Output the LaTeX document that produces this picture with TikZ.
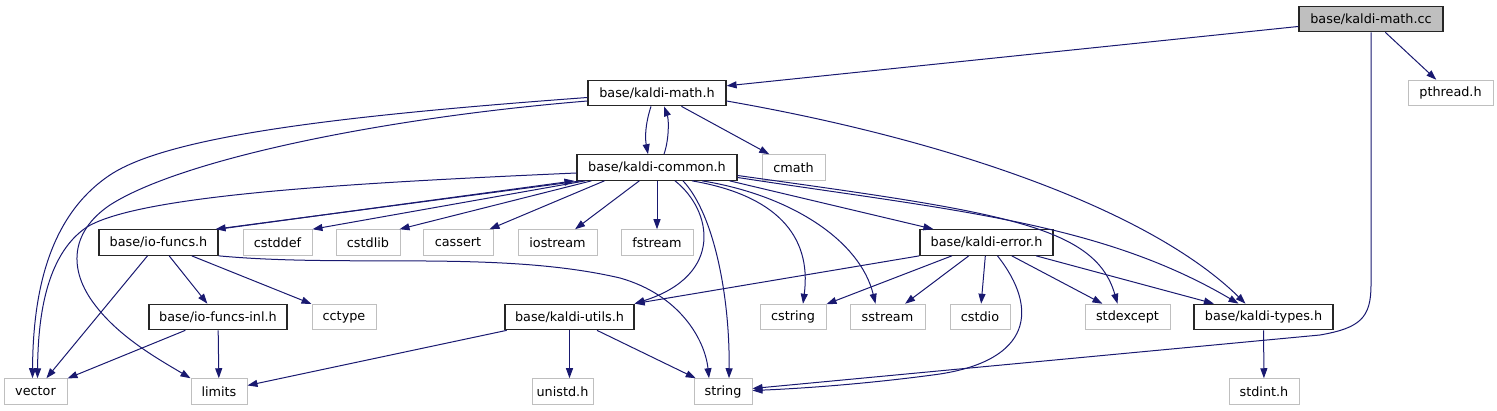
\documentclass[tikz,border=0pt]{standalone}
\usepackage{fontspec}
\setmainfont{DejaVu Sans}
\usetikzlibrary{arrows.meta}
\definecolor{edgec}{HTML}{191970}
\definecolor{greyb}{HTML}{BFBFBF}
\begin{document}
\begin{tikzpicture}[x=1pt,y=-1pt,
  lbl/.style={minimum height=25.5pt, inner sep=0pt, fill=white, font=\fontsize{12.8}{15}\selectfont},
  box/.style={lbl, draw=black!85, line width=1.2pt},
  ext/.style={lbl, draw=greyb, line width=1pt},
  edge/.style={draw=edgec, line width=1pt, -{Triangle[length=10pt,width=7pt]}}]
\useasboundingbox (0,0) rectangle (1497,411);
% nodes
\node[box, fill=greyb, minimum width=144pt] (cc) at (1371,19) {base/kaldi-math.cc};
\node[ext, minimum width=85pt] (pth) at (1450.5,93) {pthread.h};
\node[box, minimum width=138pt] (mh) at (657,93) {base/kaldi-math.h};
\node[box, minimum width=160pt] (kc) at (657,167.5) {base/kaldi-common.h};
\node[ext, minimum width=63pt] (cmath) at (793.5,167.5) {cmath};
\node[box, minimum width=119pt] (io) at (158.5,242.5) {base/io-funcs.h};
\node[ext, minimum width=69pt] (cstddef) at (277.5,242.5) {cstddef};
\node[ext, minimum width=64pt] (cstdlib) at (368,242.5) {cstdlib};
\node[ext, minimum width=70pt] (cassert) at (458,242.5) {cassert};
\node[ext, minimum width=79pt] (iostream) at (557.5,242.5) {iostream};
\node[ext, minimum width=72pt] (fstream) at (657,242.5) {fstream};
\node[box, minimum width=133pt] (ke) at (986.5,242.5) {base/kaldi-error.h};
\node[box, minimum width=138pt] (inl) at (218,317) {base/io-funcs-inl.h};
\node[ext, minimum width=64pt] (cctype) at (344,317) {cctype};
\node[box, minimum width=129pt] (utils) at (569.5,317) {base/kaldi-utils.h};
\node[ext, minimum width=66pt] (cstring) at (793,317) {cstring};
\node[ext, minimum width=75pt] (sstream) at (887.5,317) {sstream};
\node[ext, minimum width=60pt] (cstdio) at (980,317) {cstdio};
\node[ext, minimum width=85pt] (stdexcept) at (1127.5,317) {stdexcept};
\node[box, minimum width=139pt] (kt) at (1263.5,317) {base/kaldi-types.h};
\node[ext, minimum width=63pt] (vector) at (35.5,391.5) {vector};
\node[ext, minimum width=56pt] (limits) at (219,391.5) {limits};
\node[ext, minimum width=61pt] (unistd) at (562.5,391.5) {unistd.h};
\node[ext, minimum width=58pt] (string) at (723,391.5) {string};
\node[ext, minimum width=70pt] (stdint) at (1264,391.5) {stdint.h};
% edges from kaldi-math.cc
\draw[edge] (cc) -- (mh);
\draw[edge] (cc) -- (pth);
\draw[edge] (cc.south) -- (1371,285) .. controls (1371,318) and (1360,328) .. (1320,335) -- ([yshift=3pt]string.east);
% edges from kaldi-math.h
\draw[edge] ([xshift=-6pt]mh.south) .. controls (645,125) and (645,138) .. ([xshift=-9pt]kc.north);
\draw[edge] (mh) -- (cmath);
\draw[edge] ([yshift=-8pt]mh.east) .. controls (950,140) and (1150,210) .. ([xshift=-18pt]kt.north);
\draw[edge] ([yshift=-4.5pt]mh.west) .. controls (350,115) and (170,135) .. (110,175) .. controls (50,215) and (33,290) .. ([xshift=-3pt]vector.north);
\draw[edge] ([yshift=-8pt]mh.west) .. controls (380,118) and (180,160) .. (110,205) .. controls (70,232) and (68,270) .. (95,305) .. controls (120,338) and (160,360) .. (limits.north west);
% edges from kaldi-common.h
\draw[edge] ([xshift=7pt]kc.north) .. controls (669,140) and (669,120) .. ([xshift=7pt]mh.south);
\draw[edge] ([yshift=-5.5pt]kc.west) .. controls (350,183) and (140,195) .. (87,227) .. controls (45,255) and (38,320) .. ([xshift=2pt]vector.north);
\draw[edge] ([xshift=5pt]kc.south west) -- ([xshift=-3pt]io.north east);
\draw[edge] ([xshift=9pt]kc.south west) -- (cstddef.north east);
\draw[edge] ([xshift=15pt]kc.south west) -- ([xshift=-1pt]cstdlib.north east);
\draw[edge] ([xshift=28pt]kc.south west) -- ([xshift=-4pt]cassert.north east);
\draw[edge] (kc) -- (iostream);
\draw[edge] (kc) -- (fstream);
\draw[edge] ([xshift=18pt]kc.south) .. controls (712,210) and (725,275) .. (utils.north east);
\draw[edge] ([xshift=26pt]kc.south) .. controls (715,215) and (730,300) .. ([xshift=6pt]string.north);
\draw[edge] ([xshift=35pt]kc.south) .. controls (775,195) and (812,235) .. ([xshift=10pt]cstring.north);
\draw[edge] ([xshift=45pt]kc.south) .. controls (790,195) and (860,240) .. ([xshift=-12pt]sstream.north);
\draw[edge] ([xshift=-8pt]kc.south east) -- ([xshift=14pt]ke.north west);
\draw[edge] ([yshift=-8pt]kc.east) .. controls (1000,212) and (1095,225) .. ([xshift=-10pt]stdexcept.north);
\draw[edge] ([yshift=-10pt]kc.east) .. controls (950,210) and (1100,222) .. ([xshift=-25pt]kt.north);
% edges from io-funcs.h
\draw[edge] (io.north east) -- ([xshift=-2pt]kc.south west);
\draw[edge] (io) -- (vector);
\draw[edge] (io) -- (inl);
\draw[edge] (io) -- (cctype);
\draw[edge] (io.south east) .. controls (350,268) and (500,250) .. (620,278) .. controls (680,295) and (705,340) .. ([xshift=-14pt]string.north);
% edges from io-funcs-inl.h
\draw[edge] (inl) -- (vector);
\draw[edge] (inl) -- (limits);
% edges from kaldi-utils.h
\draw[edge] (utils) -- (limits);
\draw[edge] (utils.south) -- (utils.south |- unistd.north);
\draw[edge] (utils) -- (string);
% edges from kaldi-error.h
\draw[edge] (ke.south west) -- (utils.north east);
\draw[edge] (ke) -- (cstring);
\draw[edge] (ke) -- (sstream);
\draw[edge] (ke) -- (cstdio);
\draw[edge] ([xshift=11pt]ke.south) .. controls (1040,310) and (1030,360) .. (940,374) .. controls (860,385) and (790,389) .. ([yshift=1pt]string.east);
\draw[edge] (ke) -- (stdexcept);
\draw[edge] (ke) -- (kt);
% edges from kaldi-types.h
\draw[edge] (kt) -- (stdint);
\end{tikzpicture}
\end{document}
